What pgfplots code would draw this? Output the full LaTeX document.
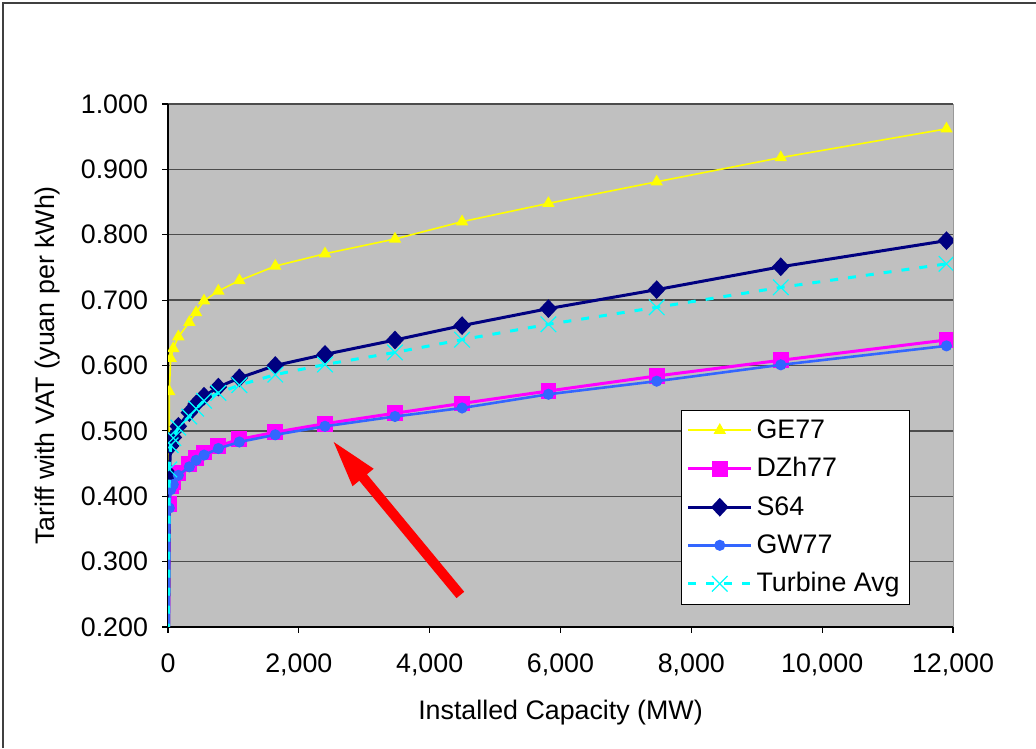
\documentclass[border=0pt]{standalone}
\usepackage{fontspec}
\setmainfont{Liberation Sans}
\usepackage{pgfplots}
\pgfplotsset{compat=1.18}
\usetikzlibrary{arrows.meta}

\definecolor{plotbg}{HTML}{C0C0C0}
\definecolor{ge}{HTML}{FFFF00}
\definecolor{dzh}{HTML}{FF00FF}
\definecolor{sss}{HTML}{000080}
\definecolor{gw}{HTML}{3366FF}
\definecolor{avg}{HTML}{00FFFF}

\newcommand{\chartfont}{\fontsize{13.4}{16}\selectfont}

\begin{document}
\begin{tikzpicture}
\useasboundingbox (0,0) rectangle (518pt,374pt);
\draw[black!75, line width=1pt] (1.5pt,0) -- (1.5pt,372.5pt) -- (518pt,372.5pt);
\begin{axis}[
  at={(84pt,60.5pt)}, anchor=south west,
  scale only axis, width=392.5pt, height=261.5pt,
  xmin=0, xmax=12000, ymin=0.2, ymax=1.0,
  axis lines*=left,
  axis line style={black, line width=0.8pt},
  axis background/.style={fill=plotbg, draw=black!40},
  tick align=outside,
  major tick length=3pt,
  tick style={black, line width=0.6pt},
  xtick distance=2000, ytick distance=0.1,
  scaled x ticks=false,
  ymajorgrids,
  grid style={black!70, line width=0.7pt},
  tick label style={font=\chartfont},
  /pgf/number format/assume math mode=true,
  xticklabel style={/pgf/number format/1000 sep={,}, yshift=-7pt},
  yticklabel style={/pgf/number format/.cd, fixed, fixed zerofill, precision=3, /tikz/.cd, xshift=-3.5pt},
  xlabel={Installed Capacity (MW)},
  ylabel={Tariff with VAT (yuan per kWh)},
  every axis x label/.style={at={(axis description cs:0.5,-0.1644)}, anchor=center, font=\chartfont},
  every axis y label/.style={at={(axis description cs:-0.1529,0.5)}, rotate=90, anchor=center, font=\chartfont},
  clip marker paths=true,
  legend style={at={(0.9452,0.4149)}, anchor=north east, draw=black, fill=white,
    font=\chartfont, row sep=4.2pt, inner xsep=3pt, inner ysep=2.5pt},
  legend cell align=left,
  legend image code/.code={\draw[mark repeat=2,mark phase=2,#1] plot coordinates {(0cm,0cm)(0.55cm,0cm)(1.1cm,0cm)};},
]

% GE77
\addplot[color=ge, line width=0.8pt, mark=triangle*, mark size=2.8pt, mark options={fill=ge, draw=ge}]
coordinates {
  (0,0.0)(20,0.560)(41,0.611)(81,0.626)(158,0.644)(326,0.666)(429,0.681)(551,0.699)(770,0.714)
  (1091,0.730)(1640,0.752)(2400,0.771)(3470,0.7935)(4495,0.820)(5815,0.848)(7470,0.881)
  (9367,0.918)(11900,0.962)
};
\addlegendentry{GE77}

% DZh77
\addplot[color=dzh, line width=1.5pt, mark=square*, mark size=3.2pt, mark options={fill=dzh, draw=dzh}]
coordinates {
  (0,0.0)(20,0.388)(41,0.415)(81,0.422)(158,0.436)(326,0.449)(429,0.459)(551,0.467)(770,0.477)
  (1091,0.487)(1640,0.498)(2400,0.511)(3470,0.527)(4495,0.542)(5815,0.561)(7470,0.584)
  (9367,0.608)(11900,0.639)
};
\addlegendentry{DZh77}

% S64
\addplot[color=sss, line width=1.5pt, mark=diamond*, mark size=3.6pt, mark options={fill=sss, draw=sss, xscale=1.25}]
coordinates {
  (0,0.0)(20,0.433)(41,0.477)(81,0.490)(158,0.507)(326,0.528)(429,0.541)(551,0.553)(770,0.567)
  (1091,0.581)(1640,0.600)(2400,0.617)(3470,0.639)(4495,0.661)(5815,0.687)(7470,0.716)
  (9367,0.751)(11900,0.791)
};
\addlegendentry{S64}

% GW77
\addplot[color=gw, line width=1.3pt, mark=*, mark size=2.1pt, mark options={fill=gw, draw=gw}]
coordinates {
  (0,0.0)(20,0.382)(41,0.410)(81,0.418)(158,0.432)(326,0.445)(429,0.455)(551,0.463)(770,0.473)
  (1091,0.483)(1640,0.494)(2400,0.507)(3470,0.522)(4495,0.535)(5815,0.556)(7470,0.576)
  (9367,0.601)(11900,0.630)
};
\addlegendentry{GW77}

% Turbine Avg
\addplot[color=avg, line width=1.5pt, dash pattern=on 4pt off 5pt, mark=x, mark size=5.5pt, mark options={solid, line width=0.6pt}]
coordinates {
  (0,0.0)(20,0.441)(41,0.478)(81,0.489)(158,0.505)(326,0.522)(429,0.534)(551,0.546)(770,0.558)
  (1091,0.570)(1640,0.586)(2400,0.6015)(3470,0.620)(4495,0.6395)(5815,0.663)(7470,0.689)
  (9367,0.7195)(11900,0.7555)
};
\addlegendentry{Turbine Avg}

\draw[red, line width=5pt, -{Triangle[length=25pt,width=12pt]}]
  (axis cs:4469,0.249) -- (axis cs:2495,0.4876);
\end{axis}
\end{tikzpicture}
\end{document}
